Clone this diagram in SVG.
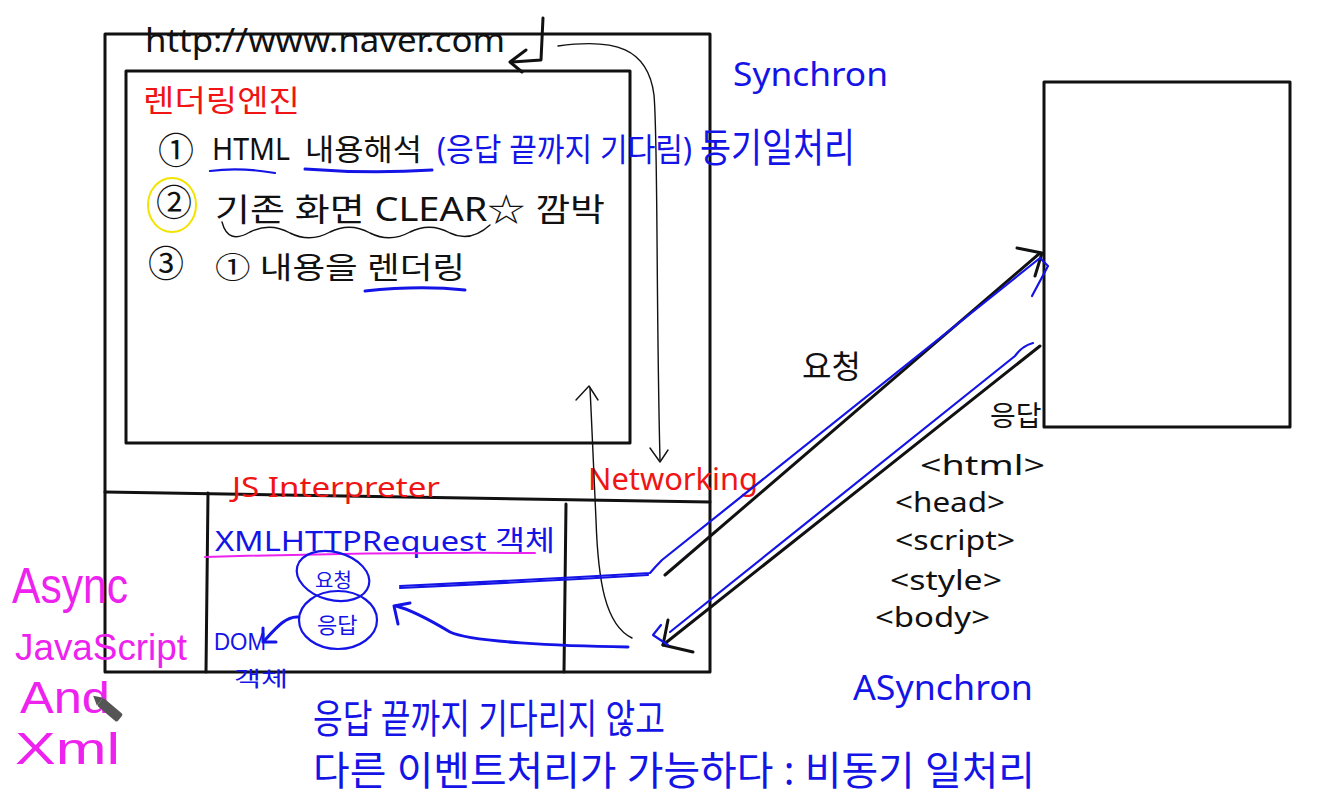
<svg xmlns="http://www.w3.org/2000/svg" width="1323" height="796" viewBox="0 0 1323 796">
<style>
.bx{fill:none;stroke:#111;stroke-width:3;stroke-linecap:round;stroke-linejoin:round}
.th{fill:none;stroke:#111;stroke-width:1.4;stroke-linecap:round;stroke-linejoin:round}
.bk{fill:none;stroke:#111;stroke-width:3;stroke-linecap:round;stroke-linejoin:round}
.bl{fill:none;stroke:#1414e6;stroke-width:2.2;stroke-linecap:round;stroke-linejoin:round}
.blt{fill:none;stroke:#1414e6;stroke-width:3;stroke-linecap:round;stroke-linejoin:round}
.mg{fill:none;stroke:#ee22ee;stroke-width:2;stroke-linecap:round}
text{font-family:"Noto Sans","Noto Sans CJK KR",sans-serif;font-weight:400}
.lat{font-family:"Liberation Sans","Noto Sans CJK KR",sans-serif}
.k{fill:#111}.b{fill:#1414e6}.r{fill:#f01414}.m{fill:#ee22ee}
</style>
<rect width="1323" height="796" fill="#ffffff"/>

<g id="browser">
  <rect class="bx" x="105" y="34" width="605" height="638"/>
  <text class="k" x="145" y="52" font-size="32" textLength="360" lengthAdjust="spacingAndGlyphs">http://www.naver.com</text>
</g>

<g id="render-engine">
  <rect class="bx" x="126" y="71" width="504" height="372"/>
  <text class="r" x="143" y="111" font-size="30" textLength="157" lengthAdjust="spacingAndGlyphs">렌더링엔진</text>
  <text class="k" x="158" y="164" font-size="36">①</text>
  <text class="k" x="212" y="160" font-size="30" textLength="78" lengthAdjust="spacingAndGlyphs">HTML</text>
  <text class="k" x="305" y="160" font-size="30" textLength="117" lengthAdjust="spacingAndGlyphs">내용해석</text>
  <text class="b" x="437" y="161" font-size="32" textLength="255" lengthAdjust="spacingAndGlyphs">(응답 끝까지 기다림)</text>
  <path class="bl" d="M210,171 Q240,167 275,173"/>
  <path class="blt" d="M305,169 Q370,174 432,170"/>
  <ellipse cx="172" cy="205" rx="24" ry="27" fill="none" stroke="#f3e400" stroke-width="2"/>
  <text class="k" x="156" y="216" font-size="36">②</text>
  <text class="k" x="215" y="221" font-size="32" textLength="390" lengthAdjust="spacingAndGlyphs">기존 화면 CLEAR☆ 깜박</text>
  <path class="th" d="M222,222 Q228,245 250,232 Q270,222 290,233 Q310,243 330,232 Q350,222 370,233 Q390,243 410,232 Q430,222 450,233 Q470,243 490,225"/>
  <text class="k" x="148" y="277" font-size="36">③</text>
  <text class="k" x="215" y="278" font-size="30" textLength="250" lengthAdjust="spacingAndGlyphs">① 내용을 렌더링</text>
  <path class="blt" d="M365,291 Q420,285 465,290"/>
</g>

<g id="sync-note">
  <text class="b" x="700" y="162" font-size="40" textLength="155" lengthAdjust="spacingAndGlyphs">동기일처리</text>
  <text class="b" x="733" y="86" font-size="32" textLength="155" lengthAdjust="spacingAndGlyphs">Synchron</text>
</g>

<g id="js-interpreter">
  <path class="bx" d="M105,492 L710,502"/>
  <path class="bx" d="M208,493 L206,672"/>
  <text class="r" x="232" y="497" font-size="28" textLength="208" lengthAdjust="spacingAndGlyphs">JS Interpreter</text>
  <text class="b" x="215" y="551" font-size="28" textLength="340" lengthAdjust="spacingAndGlyphs">XMLHTTPRequest 객체</text>
  <path class="mg" d="M205,557 Q370,552 535,553"/>
  <ellipse class="bl" cx="333" cy="576" rx="37" ry="24" transform="rotate(15 333 576)"/>
  <text class="b" x="315" y="588" font-size="20">요청</text>
  <ellipse class="bl" cx="338" cy="620" rx="39" ry="29"/>
  <text class="b" x="317" y="633" font-size="22">응답</text>
  <text class="b lat" x="214" y="650" font-size="23" textLength="52" lengthAdjust="spacingAndGlyphs">DOM</text>
  <text class="b" x="234" y="686" font-size="21" textLength="54" lengthAdjust="spacingAndGlyphs">객체</text>
</g>

<g id="networking">
  <path class="bx" d="M566,504 L564,672"/>
  <text class="r" x="588" y="490" font-size="30" textLength="170" lengthAdjust="spacingAndGlyphs">Networking</text>
</g>

<g id="server">
  <rect class="bx" x="1044" y="82" width="246" height="345"/>
</g>

<g id="response-doc">
  <text class="k" x="802" y="378" font-size="32">요청</text>
  <text class="k" x="990" y="426" font-size="28">응답</text>
  <text class="k" x="920" y="475" font-size="28" textLength="125" lengthAdjust="spacingAndGlyphs">&lt;html&gt;</text>
  <text class="k" x="895" y="512" font-size="28" textLength="110" lengthAdjust="spacingAndGlyphs">&lt;head&gt;</text>
  <text class="k" x="895" y="550" font-size="28" textLength="120" lengthAdjust="spacingAndGlyphs">&lt;script&gt;</text>
  <text class="k" x="890" y="590" font-size="28" textLength="112" lengthAdjust="spacingAndGlyphs">&lt;style&gt;</text>
  <text class="k" x="875" y="627" font-size="28" textLength="115" lengthAdjust="spacingAndGlyphs">&lt;body&gt;</text>
</g>

<g id="ajax">
  <text class="m lat" x="12" y="603" font-size="50" textLength="116" lengthAdjust="spacingAndGlyphs">Async</text>
  <text class="m lat" x="15" y="660" font-size="37" textLength="172" lengthAdjust="spacingAndGlyphs">JavaScript</text>
  <text class="m lat" x="20" y="713" font-size="44" textLength="90" lengthAdjust="spacingAndGlyphs">And</text>
  <text class="m lat" x="15" y="764" font-size="44" textLength="105" lengthAdjust="spacingAndGlyphs">Xml</text>
  <g transform="rotate(40 110 710)">
    <rect x="97" y="705" width="26" height="10" rx="2" fill="#555"/>
    <path d="M97,705 L88,710 L97,715 Z" fill="#555"/>
  </g>
</g>

<g id="async-note">
  <text class="b" x="853" y="700" font-size="34" textLength="180" lengthAdjust="spacingAndGlyphs">ASynchron</text>
  <text class="b" x="313" y="733" font-size="40" textLength="352" lengthAdjust="spacingAndGlyphs">응답 끝까지 기다리지 않고</text>
  <text class="b" x="313" y="785" font-size="40" textLength="722" lengthAdjust="spacingAndGlyphs">다른 이벤트처리가 가능하다 : 비동기 일처리</text>
</g>

<g id="connectors">
  <path class="bk" d="M543,18 L541,60 L512,62"/>
  <path class="bk" d="M526,50 L510,62 L522,72"/>
  <path class="th" d="M558,46 C615,38 648,48 654,95 C658,140 656,300 660,460"/>
  <path class="th" d="M650,448 L660,462 L668,450"/>
  <path class="th" d="M632,638 C605,625 598,580 596,520 C594,470 592,430 590,388"/>
  <path class="th" d="M576,400 L589,386 L598,400"/>
  <path class="bk" d="M665,575 L1040,253"/>
  <path class="bk" d="M1017,248 L1042,253 L1035,276"/>
  <path class="bl" d="M400,586 Q530,580 650,573 Q656,566 662,560 L1040,258"/>
  <path class="bl" d="M400,588 Q530,582 648,575"/>
  <path class="bl" d="M1040,258 L1048,266 L1032,296"/>
  <path class="bk" d="M1040,346 L663,645"/>
  <path class="bk" d="M668,620 L663,645 L693,652"/>
  <path class="bl" d="M1033,343 Q1022,346 1015,356 L670,632"/>
  <path class="bl" d="M661,625 L653,635 L668,645"/>
  <path class="blt" d="M628,647 C560,646 470,642 450,632 C430,620 412,610 396,606"/>
  <path class="blt" d="M398,624 L394,606 L410,603"/>
  <path class="blt" d="M298,617 C286,616 276,628 264,641"/>
  <path class="blt" d="M263,628 L263,642 L276,642"/>
</g>
</svg>
